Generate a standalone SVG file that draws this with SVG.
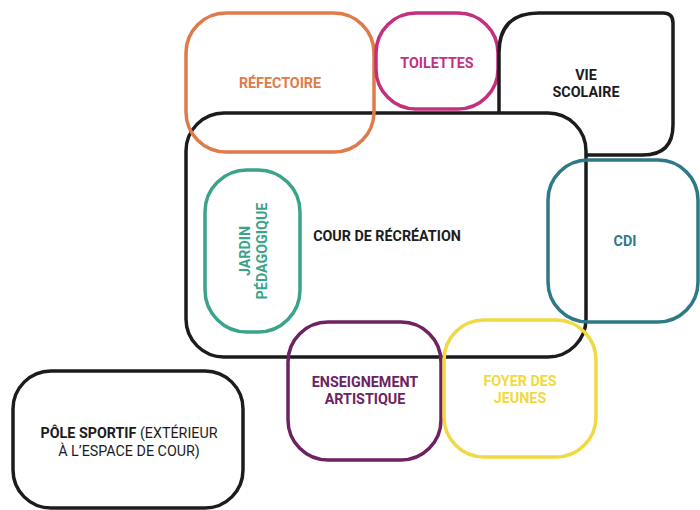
<svg xmlns="http://www.w3.org/2000/svg" width="700" height="510" viewBox="0 0 700 510">
<style>
.b{fill:none;stroke-width:3.5}
.t{font-family:Roboto,"Liberation Sans",sans-serif;font-weight:700;font-size:14.3px;text-anchor:middle}
.k{stroke:#1c1c1c}
.kt{fill:#1c1c1c}
</style>
<rect width="700" height="510" fill="#fff"/>
<g id="cour">
<rect class="b k" x="186" y="113" width="400" height="244" rx="38"/>
<text class="t kt" x="387" y="241">COUR DE RÉCRÉATION</text>
</g>
<g id="refectoire">
<rect class="b" stroke="#DE7B48" x="186" y="13" width="188" height="139" rx="40"/>
<text class="t" fill="#DE7B48" x="280" y="88">RÉFECTOIRE</text>
</g>
<g id="toilettes">
<rect class="b" stroke="#C5307D" x="376" y="13" width="122" height="96" rx="40"/>
<text class="t" fill="#C5307D" x="437" y="68">TOILETTES</text>
</g>
<g id="vie-scolaire">
<path class="b k" d="M499,113 V53 Q499,13 539,13 H663 Q673,13 673,23 V125 Q673,155 643,155 H587"/>
<text class="t kt" x="586" y="80">VIE</text>
<text class="t kt" x="586" y="97">SCOLAIRE</text>
</g>
<g id="cdi">
<rect class="b" stroke="#2E7986" x="548" y="160" width="150" height="162" rx="40"/>
<text class="t" fill="#2E7986" x="625" y="246">CDI</text>
</g>
<g id="jardin">
<rect class="b" stroke="#3AA38A" x="205" y="170" width="95" height="162" rx="42"/>
<text class="t" fill="#3AA38A" transform="translate(250,251) rotate(-90)">JARDIN</text>
<text class="t" fill="#3AA38A" transform="translate(267,251) rotate(-90)">PÉDAGOGIQUE</text>
</g>
<g id="enseignement">
<rect class="b" stroke="#6D2262" x="288" y="322" width="153" height="138" rx="40"/>
<text class="t" fill="#6D2262" x="365" y="387">ENSEIGNEMENT</text>
<text class="t" fill="#6D2262" x="365" y="404">ARTISTIQUE</text>
</g>
<g id="foyer">
<rect class="b" stroke="#F0D941" x="444" y="320" width="152" height="137" rx="40"/>
<text class="t" fill="#F0D941" x="520" y="386">FOYER DES</text>
<text class="t" fill="#F0D941" x="520" y="403">JEUNES</text>
</g>
<g id="pole-sportif">
<rect class="b k" x="13" y="371" width="230" height="137" rx="38"/>
<text class="t kt" x="129" y="438">PÔLE SPORTIF <tspan font-weight="400">(EXTÉRIEUR</tspan></text>
<text class="t kt" x="129" y="456" style="font-weight:400">À L’ESPACE DE COUR)</text>
</g>
<g id="connectors"/>
</svg>
